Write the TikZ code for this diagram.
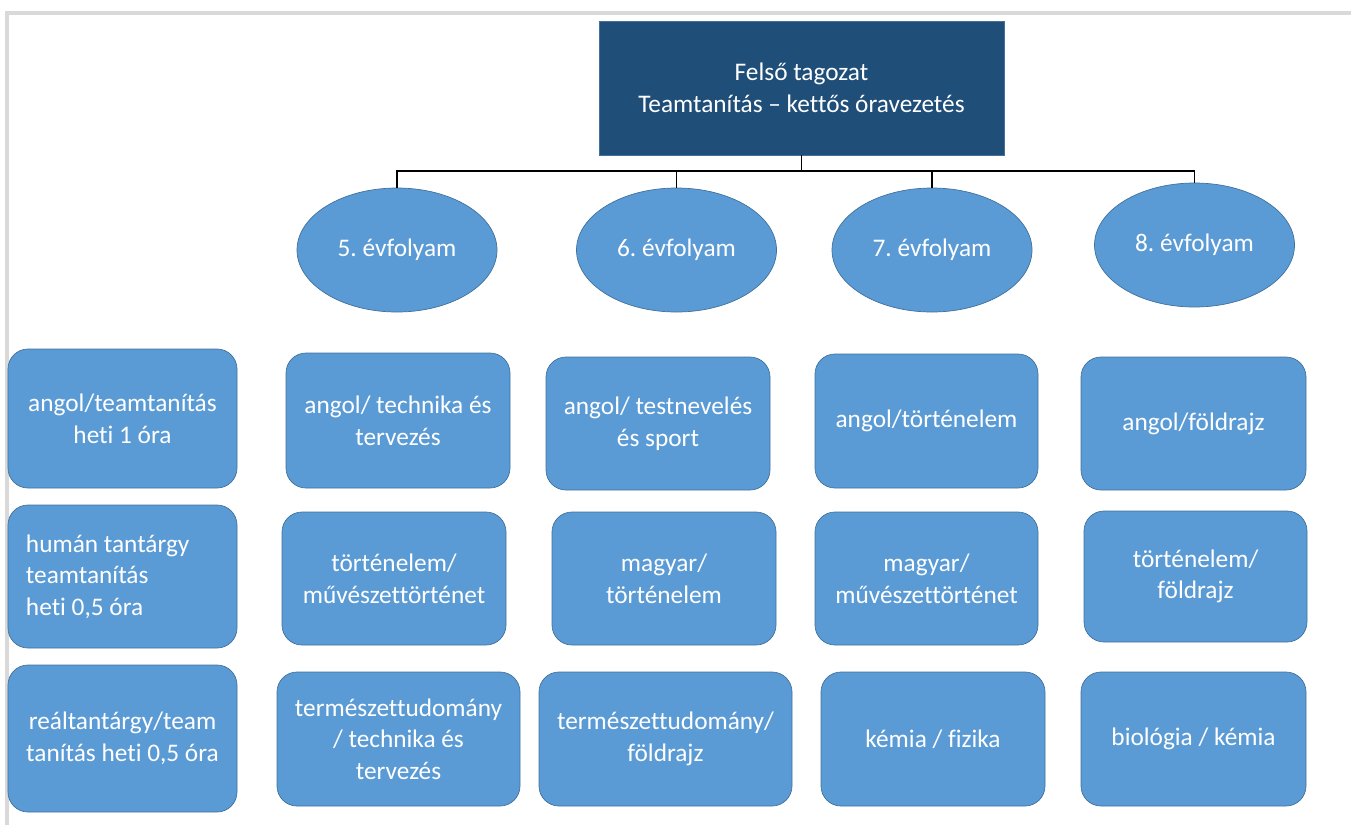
\documentclass[tikz,border=0pt]{standalone}
\usepackage{fontspec}
\setmainfont{Carlito}[Ligatures={TeX,NoCommon}]
\usetikzlibrary{shapes.geometric}
\definecolor{boxblue}{RGB}{91,155,213}
\definecolor{boxline}{RGB}{65,113,156}
\definecolor{headblue}{RGB}{31,78,121}
\frenchspacing
\begin{document}
\begin{tikzpicture}[font=\fontsize{14.4}{18}\selectfont]
    \tikzset{head/.style = {shape=rectangle,draw=boxline,fill=headblue,text=white,align=center,minimum width=8.1cm,minimum height=2.68cm}}
    \tikzset{grade/.style = {shape=ellipse,draw=boxline,fill=boxblue,text=white,inner sep=0pt,minimum width=4cm,minimum height=2.48cm}}
    \tikzset{subject/.style = {shape=rectangle,rounded corners=0.4cm,draw=boxline,fill=boxblue,text=white,align=center,minimum width=4.48cm,minimum height=2.68cm}}
    \tikzset{link/.style = {-,draw=black,line width=1.1pt}}
    \useasboundingbox (0,0) rectangle (27.02,-16.5);
    % frame
    \draw[gray!30,line width=2pt] (0.14,-16.5) -- (0.14,-0.26) -- (27.02,-0.26);
    % top
    \node[head] (top) at (16.03,-1.76) {Felső tagozat\\Teamtanítás – kettős óravezetés};
    % grades
    \node[grade] (g5) at (7.94,-5) {5. évfolyam};
    \node[grade] (g6) at (13.53,-5) {6. évfolyam};
    \node[grade] (g7) at (18.64,-5) {7. évfolyam};
    \node[grade] (g8) at (23.89,-4.9) {8. évfolyam};
    % rows on the left
    \node[subject,minimum width=4.58cm,minimum height=2.78cm] (r1) at (2.45,-8.37) {angol/teamtanítás\\heti 1 óra};
    \node[subject,minimum width=4.58cm,minimum height=2.86cm,align=flush left,text width=3.86cm,inner xsep=0.36cm] (r2) at (2.45,-11.53) {humán tantárgy\\teamtanítás\\heti 0,5 óra};
    \node[subject,minimum width=4.58cm,minimum height=2.94cm] (r3) at (2.45,-14.77) {reáltantárgy/team\\tanítás heti 0,5 óra};
    % 5. grade
    \node[subject,minimum height=2.7cm] (s51) at (7.96,-8.41) {angol/ technika és\\tervezés};
    \node[subject,minimum height=2.66cm] (s52) at (7.88,-11.57) {történelem/\\művészettörténet};
    \node[subject,minimum width=4.86cm] (s53) at (7.97,-14.78) {természettudomány\\/ technika és\\tervezés};
    % 6. grade
    \node[subject,minimum height=2.66cm] (s61) at (13.16,-8.47) {angol/ testnevelés\\és sport};
    \node[subject,minimum height=2.66cm] (s62) at (13.28,-11.57) {magyar/\\történelem};
    \node[subject,minimum width=5.06cm] (s63) at (13.31,-14.78) {természettudomány/\\földrajz};
    % 7. grade
    \node[subject,minimum width=4.46cm] (s71) at (18.53,-8.42) {angol/történelem};
    \node[subject,minimum width=4.46cm,minimum height=2.66cm] (s72) at (18.53,-11.57) {magyar/\\művészettörténet};
    \node[subject] (s73) at (18.66,-14.78) {kémia / fizika};
    % 8. grade
    \node[subject,minimum width=4.5cm,minimum height=2.66cm] (s81) at (23.87,-8.47) {angol/földrajz};
    \node[subject,minimum width=4.46cm,minimum height=2.62cm] (s82) at (23.91,-11.53) {történelem/\\földrajz};
    \node[subject,minimum width=4.5cm] (s83) at (23.87,-14.78) {biológia / kémia};
    % connectors
    \coordinate (bus) at (16.03,-3.42);
    \draw[link] (top) -- (bus);
    \foreach \g in {g5,g6,g7,g8}
        \draw[link] (\g.north) |- (bus);
\end{tikzpicture}
\end{document}
